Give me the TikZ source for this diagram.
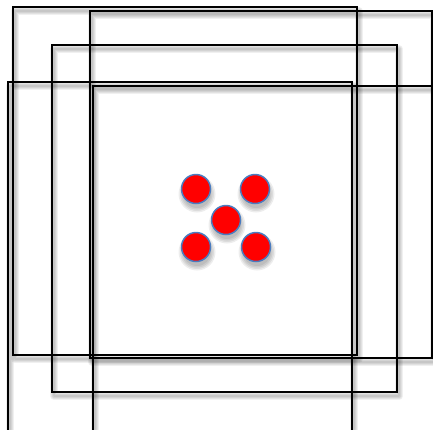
\documentclass[tikz,border=0pt]{standalone}
\definecolor{dotblue}{HTML}{4A7CC0}
\tikzset{
  frame/.style={draw=black, line width=2pt},
  frameshadow/.style={draw=black, line width=#1, opacity=0.06, line join=round},
  dot/.style={circle, fill=red, draw=dotblue, line width=1.5pt, minimum size=29pt, inner sep=0pt},
  dotshadow/.style={circle, fill=black, opacity=0.07, inner sep=0pt, minimum size=#1}
}
\newcommand{\shadowrect}[2]{%
  \foreach \w in {2pt,4pt,6pt,8pt}{\draw[frameshadow=\w] ([shift={(2,4)}]#1) rectangle ([shift={(2,4)}]#2);}%
}
\newcommand{\reddot}[2]{%
  \foreach \s in {28pt,31pt,34pt,37pt}{\node[dotshadow=\s] at ([shift={(1,5)}]#2) {};}%
  \node[dot] (#1) at (#2) {};%
}
\begin{document}
\begin{tikzpicture}[x=1pt,y=-1pt]
\useasboundingbox (0,0) rectangle (433,429);
\clip (0,0) rectangle (433,429);
\fill[white] (0,0) rectangle (433,429);
% shadows
\shadowrect{13,7}{357,355}
\shadowrect{90,11}{432,358}
\shadowrect{52,45}{397,392}
\shadowrect{8,82}{352,460}
\shadowrect{93,86}{460,460}
% frames
\draw[frame] (13,7) rectangle (357,355);
\draw[frame] (90,11) rectangle (432,358);
\draw[frame] (52,45) rectangle (397,392);
\draw[frame] (8,82) rectangle (352,460);
\draw[frame] (93,86) rectangle (460,460);
% dots
\reddot{d1}{196,189}
\reddot{d2}{255,189}
\reddot{d3}{226,220}
\reddot{d4}{196,247}
\reddot{d5}{256,247}
\end{tikzpicture}
\end{document}
